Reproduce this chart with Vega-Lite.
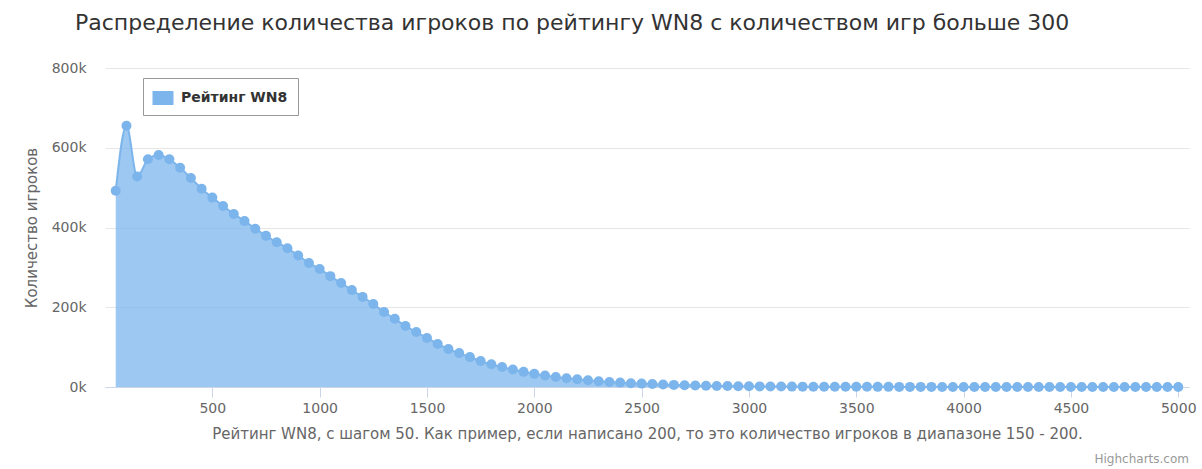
{
  "$schema": "https://vega.github.io/schema/vega-lite/v6.json",
  "autosize": {"type": "none"},
  "width": 1084,
  "height": 319,
  "padding": {"left": 105, "top": 68, "right": 13, "bottom": 82},
  "background": "white",
  "title": {
    "text": "Распределение количества игроков по рейтингу WN8 с количеством игр больше 300",
    "anchor": "start",
    "frame": "group",
    "baseline": "alphabetic",
    "offset": 38,
    "dx": -30,
    "dy": 29,
    "font": "DejaVu Sans",
    "fontSize": 22,
    "fontWeight": "normal",
    "color": "#333333"
  },
  "config": {
    "view": {"stroke": null},
    "font": "DejaVu Sans"
  },
  "layer": [
    {
      "data": {
        "values": [
          {"wn8": 50, "players": 492000}, {"wn8": 100, "players": 655000},
          {"wn8": 150, "players": 528000}, {"wn8": 200, "players": 571000},
          {"wn8": 250, "players": 582000}, {"wn8": 300, "players": 571000},
          {"wn8": 350, "players": 550000}, {"wn8": 400, "players": 524000},
          {"wn8": 450, "players": 497000}, {"wn8": 500, "players": 475000},
          {"wn8": 550, "players": 454000}, {"wn8": 600, "players": 434000},
          {"wn8": 650, "players": 416000}, {"wn8": 700, "players": 397000},
          {"wn8": 750, "players": 379000}, {"wn8": 800, "players": 363000},
          {"wn8": 850, "players": 348000}, {"wn8": 900, "players": 330000},
          {"wn8": 950, "players": 311000}, {"wn8": 1000, "players": 296000},
          {"wn8": 1050, "players": 278000}, {"wn8": 1100, "players": 261000},
          {"wn8": 1150, "players": 243000}, {"wn8": 1200, "players": 226000},
          {"wn8": 1250, "players": 208000}, {"wn8": 1300, "players": 188000},
          {"wn8": 1350, "players": 171000}, {"wn8": 1400, "players": 153000},
          {"wn8": 1450, "players": 138000}, {"wn8": 1500, "players": 123000},
          {"wn8": 1550, "players": 108000}, {"wn8": 1600, "players": 95000},
          {"wn8": 1650, "players": 85000}, {"wn8": 1700, "players": 75000},
          {"wn8": 1750, "players": 65000}, {"wn8": 1800, "players": 57000},
          {"wn8": 1850, "players": 50000}, {"wn8": 1900, "players": 44000},
          {"wn8": 1950, "players": 38000}, {"wn8": 2000, "players": 33000},
          {"wn8": 2050, "players": 29000}, {"wn8": 2100, "players": 25000},
          {"wn8": 2150, "players": 22000}, {"wn8": 2200, "players": 19500},
          {"wn8": 2250, "players": 17000}, {"wn8": 2300, "players": 14500},
          {"wn8": 2350, "players": 12500}, {"wn8": 2400, "players": 11000},
          {"wn8": 2450, "players": 9500}, {"wn8": 2500, "players": 8500},
          {"wn8": 2550, "players": 7300}, {"wn8": 2600, "players": 6200},
          {"wn8": 2650, "players": 5300}, {"wn8": 2700, "players": 4500},
          {"wn8": 2750, "players": 3800}, {"wn8": 2800, "players": 3200},
          {"wn8": 2850, "players": 2700}, {"wn8": 2900, "players": 2300},
          {"wn8": 2950, "players": 2000}, {"wn8": 3000, "players": 1700},
          {"wn8": 3050, "players": 1500}, {"wn8": 3100, "players": 1300},
          {"wn8": 3150, "players": 1150}, {"wn8": 3200, "players": 1000},
          {"wn8": 3250, "players": 900}, {"wn8": 3300, "players": 800},
          {"wn8": 3350, "players": 700}, {"wn8": 3400, "players": 620},
          {"wn8": 3450, "players": 550}, {"wn8": 3500, "players": 490},
          {"wn8": 3550, "players": 440}, {"wn8": 3600, "players": 390},
          {"wn8": 3650, "players": 350}, {"wn8": 3700, "players": 310},
          {"wn8": 3750, "players": 280}, {"wn8": 3800, "players": 250},
          {"wn8": 3850, "players": 225}, {"wn8": 3900, "players": 200},
          {"wn8": 3950, "players": 180}, {"wn8": 4000, "players": 165},
          {"wn8": 4050, "players": 150}, {"wn8": 4100, "players": 135},
          {"wn8": 4150, "players": 120}, {"wn8": 4200, "players": 110},
          {"wn8": 4250, "players": 100}, {"wn8": 4300, "players": 92},
          {"wn8": 4350, "players": 85}, {"wn8": 4400, "players": 78},
          {"wn8": 4450, "players": 72}, {"wn8": 4500, "players": 66},
          {"wn8": 4550, "players": 60}, {"wn8": 4600, "players": 56},
          {"wn8": 4650, "players": 52}, {"wn8": 4700, "players": 48},
          {"wn8": 4750, "players": 44}, {"wn8": 4800, "players": 41},
          {"wn8": 4850, "players": 38}, {"wn8": 4900, "players": 36},
          {"wn8": 4950, "players": 33}, {"wn8": 5000, "players": 60}
        ]
      },
      "encoding": {
        "x": {
          "field": "wn8",
          "type": "quantitative",
          "scale": {"domain": [0, 5050], "nice": false, "zero": false},
          "axis": {
            "values": [500, 1000, 1500, 2000, 2500, 3000, 3500, 4000, 4500, 5000],
            "format": "d",
            "grid": false,
            "domainColor": "#ccd6eb",
            "tickColor": "#ccd6eb",
            "tickSize": 10,
            "labelFontSize": 14,
            "labelColor": "#666666",
            "labelPadding": 4,
            "title": "Рейтинг WN8, с шагом 50. Как пример, если написано 200, то это количество игроков в диапазоне 150 - 200.",
            "titleFontSize": 15,
            "titleFontWeight": "normal",
            "titleColor": "#666666",
            "titlePadding": 11
          }
        },
        "y": {
          "field": "players",
          "type": "quantitative",
          "scale": {"domain": [0, 800000], "nice": false},
          "axis": {
            "values": [0, 200000, 400000, 600000, 800000],
            "labelExpr": "datum.value / 1000 + 'k'",
            "domain": false,
            "ticks": false,
            "gridColor": "#e6e6e6",
            "labelFontSize": 14,
            "labelColor": "#666666",
            "labelPadding": 19,
            "title": "Количество игроков",
            "titleFontSize": 15,
            "titleFontWeight": "normal",
            "titleColor": "#666666",
            "titlePadding": 12
          }
        }
      },
      "layer": [
        {
          "mark": {"type": "area", "interpolate": "monotone", "opacity": 0.75},
          "encoding": {
            "color": {
              "datum": "Рейтинг WN8",
              "scale": {"range": ["#7cb5ec"]},
              "legend": {
                "title": null,
                "orient": "none",
                "legendX": 38,
                "legendY": 10,
                "padding": 10,
                "strokeColor": "#999999",
                "fillColor": "white",
                "symbolType": "M-1.05,-0.7H1.05V0.7H-1.05Z",
                "symbolSize": 400,
                "symbolOpacity": 1,
                "symbolStrokeWidth": 0,
                "labelFontSize": 14,
                "labelFontWeight": "bold",
                "labelColor": "#333333",
                "labelOffset": 8
              }
            }
          }
        },
        {
          "mark": {"type": "line", "interpolate": "monotone", "color": "#7cb5ec", "strokeWidth": 2},
          "encoding": {}
        },
        {
          "mark": {"type": "point", "filled": true, "opacity": 1, "size": 100, "color": "#7cb5ec"},
          "encoding": {}
        }
      ]
    },
    {
      "data": {"values": [{"credit": "Highcharts.com", "x": 5050, "y": -181000}]},
      "mark": {"type": "text", "align": "right", "baseline": "middle", "fontSize": 12, "color": "#999999", "clip": false},
      "encoding": {
        "x": {"field": "x", "type": "quantitative"},
        "y": {"field": "y", "type": "quantitative"},
        "text": {"field": "credit"}
      }
    }
  ]
}
